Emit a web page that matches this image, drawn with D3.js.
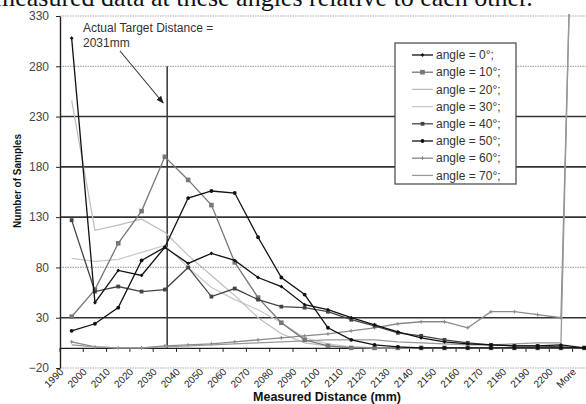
<!DOCTYPE html>
<html>
<head>
<meta charset="utf-8">
<script src="https://cdn.jsdelivr.net/npm/d3@7"></script>
<style>
  html, body { margin: 0; padding: 0; background: #fff; }
  svg { display: block; font-family: "Liberation Sans", Arial, sans-serif; }
</style>
</head>
<body>
<svg id="chart" width="586" height="404"></svg>
<script>
// Histogram bins (mm) and sample counts per sensor angle
const categories = ["1990","2000","2010","2020","2030","2040","2050","2060","2070","2080","2090",
  "2100","2110","2120","2130","2140","2150","2160","2170","2180","2190","2200","More"];
const seriesNames = ["angle = 0°;","angle = 10°;","angle = 20°;","angle = 30°;",
  "angle = 40°;","angle = 50°;","angle = 60°;","angle = 70°;"];
const angle0  = [308, 45, 77, 72, 100, 84, 94, 87, 70, 61, 43, 38, 30, 23, 16, 10, 6, 4, 3, 2, 2, 3, 0];
const angle10 = [31, 58, 104, 136, 190, 167, 142, 85, 50, 25, 8, 2, 0, 0, 0, 0, 0, 0, 0, 0, 0, 0, 0];
const angle20 = [246, 117, 122, 128, 115, 92, 72, 52, 30, 14, 5, 2, 1, 0, 0, 0, 0, 0, 0, 0, 0, 0, 0];
const angle30 = [89, 86, 88, 95, 102, 80, 60, 48, 38, 25, 10, 4, 1, 0, 0, 0, 0, 0, 0, 0, 0, 0, 0];
const angle40 = [127, 56, 61, 56, 58, 80, 51, 59, 48, 41, 40, 36, 28, 22, 15, 12, 8, 5, 3, 2, 2, 1, 0];
const angle50 = [17, 24, 40, 87, 100, 149, 156, 154, 110, 70, 53, 20, 8, 3, 1, 0, 0, 0, 0, 0, 0, 0, 0];
const angle60 = [6, 1, 0, 0, 2, 3, 4, 6, 8, 10, 12, 14, 17, 20, 24, 26, 26, 20, 36, 36, 33, 30, 900];
const angle70 = [3, 1, 0, 0, 1, 2, 3, 4, 5, 6, 7, 8, 8, 8, 6, 5, 4, 3, 3, 4, 5, 5, 950];
const yTicks = [-20, 30, 80, 130, 180, 230, 280, 330];
const targetDistance = 2031;

const seriesValues = [angle0, angle10, angle20, angle30, angle40, angle50, angle60, angle70];
const seriesColor  = ["#111", "#777", "#bdbdbd", "#c8c8c8", "#444", "#111", "#8a8a8a", "#999"];
const seriesMarker = ["diamond", "square", "none", "none", "square", "circle", "cross", "none"];

const svg = d3.select("#chart");
const W = 586, H = 404;
const m = { left: 60, top: 16, bottom: 368 };
const step = 23.3;

const x = d3.scaleBand().domain(categories).range([m.left, m.left + step * categories.length]).padding(0);
const cx = c => x(c) + x.bandwidth() / 2;
const y = d3.scaleLinear().domain([-20, 330]).range([m.bottom, m.top]);

// Running text of the page above the figure
svg.append("text").attr("x", -5).attr("y", 6)
  .attr("font-family", "'Liberation Serif', 'Times New Roman', serif")
  .attr("font-size", 26).attr("fill", "#111")
  .text("measured data at these angles relative to each other.");

// Gridlines
const darkGrid = new Set([30, 130, 180, 230]);
svg.append("g").selectAll("line").data(yTicks).join("line")
  .attr("x1", m.left).attr("x2", W)
  .attr("y1", d => y(d)).attr("y2", d => y(d))
  .attr("stroke", d => darkGrid.has(d) ? "#333" : "#aaa")
  .attr("stroke-width", d => darkGrid.has(d) ? 1.6 : 1.2)
  .attr("stroke-dasharray", d => darkGrid.has(d) ? null : "1.5,1");

// Y axis
const yAxis = svg.append("g").attr("transform", `translate(${m.left},0)`)
  .call(d3.axisLeft(y).tickValues(yTicks).tickSize(4).tickPadding(7).tickSizeOuter(0));
yAxis.select(".domain").attr("stroke", "#222").attr("stroke-width", 1.4);
yAxis.selectAll(".tick line").attr("stroke", "#222");
yAxis.selectAll(".tick text").attr("font-size", 12).attr("fill", "#444")
  .attr("font-family", "'Liberation Sans', Arial, sans-serif");

// Category axis at zero, ticks between bins
const xAxis = svg.append("g").attr("transform", `translate(0,${y(0)})`)
  .call(d3.axisBottom(x).tickSize(4).tickSizeOuter(0));
xAxis.select(".domain").attr("stroke", "#222").attr("stroke-width", 1.4);
xAxis.selectAll(".tick line").attr("stroke", "#222")
  .attr("x1", -x.bandwidth() / 2).attr("x2", -x.bandwidth() / 2);
xAxis.selectAll(".tick text")
  .attr("font-size", 10).attr("fill", "#222")
  .attr("font-family", "'Liberation Sans', Arial, sans-serif")
  .attr("text-anchor", "end").attr("dy", "0.35em").attr("y", 0)
  .attr("transform", `translate(-10,${m.bottom + 2 - y(0)}) rotate(-45)`);

// Target distance marker
const xTarget = cx("2030") + (targetDistance - 2030) / 10 * step;
svg.append("line").attr("x1", xTarget).attr("x2", xTarget)
  .attr("y1", y(280)).attr("y2", y(0)).attr("stroke", "#333").attr("stroke-width", 1.5);

// Series
svg.append("clipPath").attr("id", "plotClip").append("rect")
  .attr("x", m.left).attr("y", m.top - 2).attr("width", W - m.left).attr("height", m.bottom - m.top + 2);
const plot = svg.append("g").attr("clip-path", "url(#plotClip)");
const line = d3.line().x((d, i) => cx(categories[i])).y(d => y(d));

function drawMarker(g, type, color, px, py, s) {
  if (type === "diamond") {
    g.append("path").attr("d", `M${px},${py - s}L${px + s},${py}L${px},${py + s}L${px - s},${py}Z`).attr("fill", color);
  } else if (type === "square") {
    g.append("rect").attr("x", px - s).attr("y", py - s).attr("width", 2 * s).attr("height", 2 * s).attr("fill", color);
  } else if (type === "circle") {
    g.append("circle").attr("cx", px).attr("cy", py).attr("r", s).attr("fill", color);
  } else if (type === "cross") {
    g.append("path").attr("d", `M${px - s},${py}H${px + s}M${px},${py - s}V${py + s}`)
      .attr("stroke", color).attr("stroke-width", 1);
  }
}

const drawOrder = [3, 2, 6, 7, 1, 4, 0, 5];
drawOrder.forEach(k => {
  const vals = seriesValues[k];
  const g = plot.append("g");
  g.append("path").datum(vals).attr("d", line).attr("fill", "none")
    .attr("stroke", seriesColor[k]).attr("stroke-width", k === 2 || k === 3 ? 1.2 : 1.3);
  vals.forEach((v, i) => drawMarker(g, seriesMarker[k], seriesColor[k], cx(categories[i]), y(v), k === 1 ? 2.3 : 1.9));
});

// Annotation
const ann = svg.append("g").attr("font-size", 12).attr("fill", "#333")
  .attr("font-family", "'Liberation Sans', Arial, sans-serif");
ann.append("text").attr("x", 83).attr("y", 32).text("Actual Target Distance =");
ann.append("text").attr("x", 83).attr("y", 47).text(`${targetDistance}mm`);
svg.append("defs").append("marker").attr("id", "arrowHead")
  .attr("viewBox", "0 0 10 10").attr("refX", 9).attr("refY", 5)
  .attr("markerWidth", 7).attr("markerHeight", 7).attr("orient", "auto")
  .append("path").attr("d", "M0,1L10,5L0,9Z").attr("fill", "#222");
svg.append("line").attr("x1", 120).attr("y1", 51).attr("x2", xTarget - 4).attr("y2", 103)
  .attr("stroke", "#333").attr("stroke-width", 1.1).attr("marker-end", "url(#arrowHead)");

// Legend
const lg = svg.append("g");
lg.append("rect").attr("x", 395).attr("y", 43).attr("width", 121).attr("height", 141)
  .attr("fill", "#fff").attr("stroke", "#444").attr("stroke-width", 1.2);
seriesNames.forEach((name, k) => {
  const ly = 55 + k * 17.2;
  lg.append("line").attr("x1", 412).attr("x2", 433).attr("y1", ly).attr("y2", ly)
    .attr("stroke", seriesColor[k]).attr("stroke-width", 1.3);
  drawMarker(lg, seriesMarker[k], seriesColor[k], 422.5, ly, k === 1 ? 2.3 : 1.9);
  lg.append("text").attr("x", 436).attr("y", ly).attr("dy", "0.35em")
    .attr("font-size", 12).attr("fill", "#333").text(name);
});

// Axis titles
svg.append("text").attr("transform", "translate(21,181) rotate(-90)")
  .attr("text-anchor", "middle").attr("font-size", 10).attr("font-weight", "bold").attr("fill", "#111")
  .text("Number of Samples");
svg.append("text").attr("x", 327).attr("y", 401).attr("text-anchor", "middle")
  .attr("font-size", 12.5).attr("font-weight", "bold").attr("fill", "#111")
  .text("Measured Distance (mm)");
</script>
</body>
</html>
